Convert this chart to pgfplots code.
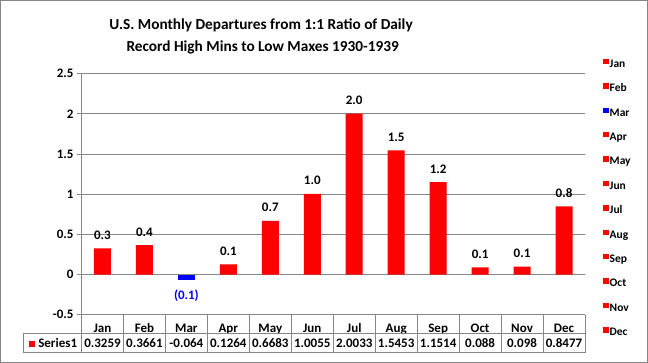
\documentclass[border=0pt]{standalone}
\usepackage{pgfplots}
\pgfplotsset{compat=1.18}
\usepackage{fontspec}
\setmainfont{Carlito}
\definecolor{gridgray}{RGB}{134,134,134}
\definecolor{barred}{RGB}{255,0,0}
\definecolor{barblue}{RGB}{0,0,255}
\newcommand{\fs}[1]{\fontsize{#1bp}{#1bp}\selectfont\bfseries}
\pgfplotsset{sqlegend/.style={draw=none, legend image code/.code={\fill[##1] (0bp,0bp) rectangle (5.5bp,5.5bp);}}}
\begin{document}
\begin{tikzpicture}
\draw[gridgray, line width=1bp] (0.5bp,-0.5bp) rectangle (647.5bp,-362.5bp);
\begin{axis}[
  at={(81.5bp,-314.7bp)}, anchor=south west,
  scale only axis, width=503.5bp, height=241bp,
  xmin=-0.5, xmax=11.5, ymin=-0.5, ymax=2.5,
  clip=false,
  separate axis lines,
  axis y line*=left,
  x axis line style={draw=none},
  y axis line style={gridgray, line width=0.75bp},
  ytick={-0.5,0,0.5,1,1.5,2,2.5},
  ymajorgrids,
  major grid style={gridgray, line width=0.75bp},
  ytick style={gridgray, line width=0.75bp},
  tick align=outside, major tick length=4.5bp,
  /pgf/number format/assume math mode=true,
  yticklabel style={font=\fs{13}, text=black},
  xtick={0,...,11},
  xticklabels={Jan,Feb,Mar,Apr,May,Jun,Jul,Aug,Sep,Oct,Nov,Dec},
  xtick style={draw=none},
  xticklabel style={font=\fs{13}, text=black, anchor=base, yshift=-13.5bp},
  legend style={at={(1.0298,1.071)}, anchor=north west, draw=none, fill=none,
    font=\fs{11.5}, row sep=13.9bp,
    nodes={inner xsep=1bp, inner ysep=0pt, text height=8bp, text depth=2bp}},
  legend cell align=left,
]
\addplot[ybar, bar width=17bp, bar shift=0pt, fill=barred, draw=none, forget plot,
  point meta=y,
  nodes near coords={\pgfmathprintnumber[fixed,fixed zerofill,precision=1]{\pgfplotspointmeta}},
  nodes near coords style={font=\fs{13}, text=black, anchor=base, inner sep=0pt, yshift=9bp}]
  coordinates {(0,0.3259) (1,0.3661) (3,0.1264) (4,0.6683) (5,1.0055) (6,2.0033)
               (7,1.5453) (8,1.1514) (9,0.088) (10,0.098) (11,0.8477)};
\addplot[ybar, bar width=17bp, bar shift=0pt, fill=barblue, draw=none, forget plot,
  point meta=explicit,
  nodes near coords={(\pgfmathprintnumber[fixed,fixed zerofill,precision=1]{\pgfplotspointmeta})},
  nodes near coords style={font=\fs{13}, text=barblue, anchor=north, inner sep=0pt, yshift=-10bp}]
  coordinates {(2,-0.064) [0.064]};
\addplot[forget plot, draw=none, mark=none, point meta=explicit symbolic,
  nodes near coords={\pgfplotspointmeta},
  nodes near coords style={font=\fs{13}, text=black, anchor=base, inner sep=0pt}]
  coordinates {(0,-0.9025)[0.3259] (1,-0.9025)[0.3661] (2,-0.9025)[-0.064] (3,-0.9025)[0.1264]
               (4,-0.9025)[0.6683] (5,-0.9025)[1.0055] (6,-0.9025)[2.0033] (7,-0.9025)[1.5453]
               (8,-0.9025)[1.1514] (9,-0.9025)[0.088] (10,-0.9025)[0.098] (11,-0.9025)[0.8477]};
% legend
\addlegendimage{sqlegend, fill=barred}\addlegendentry{Jan}
\addlegendimage{sqlegend, fill=barred}\addlegendentry{Feb}
\addlegendimage{sqlegend, fill=barblue}\addlegendentry{Mar}
\addlegendimage{sqlegend, fill=barred}\addlegendentry{Apr}
\addlegendimage{sqlegend, fill=barred}\addlegendentry{May}
\addlegendimage{sqlegend, fill=barred}\addlegendentry{Jun}
\addlegendimage{sqlegend, fill=barred}\addlegendentry{Jul}
\addlegendimage{sqlegend, fill=barred}\addlegendentry{Aug}
\addlegendimage{sqlegend, fill=barred}\addlegendentry{Sep}
\addlegendimage{sqlegend, fill=barred}\addlegendentry{Oct}
\addlegendimage{sqlegend, fill=barred}\addlegendentry{Nov}
\addlegendimage{sqlegend, fill=barred}\addlegendentry{Dec}
% data table grid
\pgfplotsinvokeforeach{-0.5,0.5,...,11.5}{\draw[gridgray, line width=0.75bp] (#1,-0.5) -- (#1,-0.975);}
\draw[gridgray, line width=0.75bp] (-1.887,-0.738) -- (11.5,-0.738);
\draw[gridgray, line width=0.75bp] (-1.887,-0.975) -- (11.5,-0.975);
\draw[gridgray, line width=0.75bp] (-1.887,-0.738) -- (-1.887,-0.975);
\node[font=\fs{13}, anchor=base west, inner sep=0pt, xshift=5bp] at (-1.887,-0.9025)
  {\textcolor{barred}{\rule{6.3bp}{6.3bp}}\hspace{3.5bp}Series1};
\end{axis}
\node[font=\fs{15.3}, anchor=base, inner sep=0pt] at (261bp,-29bp) {U.S. Monthly Departures from 1:1 Ratio of Daily};
\node[font=\fs{15.3}, anchor=base, inner sep=0pt] at (262.7bp,-51.5bp) {Record High Mins to Low Maxes 1930-1939};
\pgfresetboundingbox
\path[use as bounding box] (0,0) rectangle (648bp,-363bp);
\end{tikzpicture}
\end{document}
